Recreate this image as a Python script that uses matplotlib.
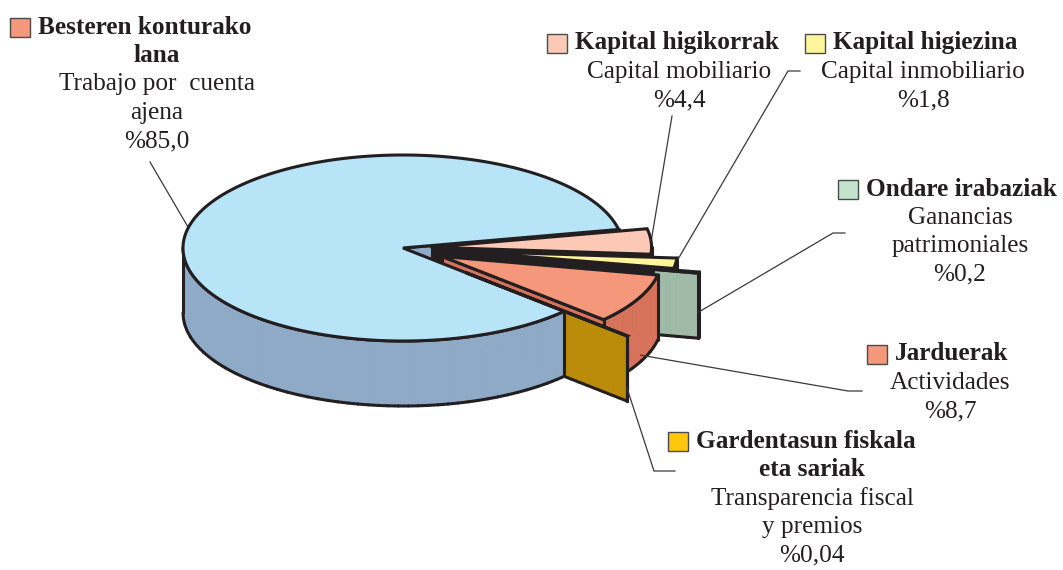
import numpy as np
import matplotlib
matplotlib.use('Agg')
import matplotlib.pyplot as plt
from matplotlib.patches import Polygon, Rectangle

# data
names_eu = ['Besteren konturako\nlana', 'Kapital higikorrak', 'Kapital higiezina',
            'Ondare irabaziak', 'Jarduerak', 'Gardentasun fiskala\neta sariak']
names_es = ['Trabajo por  cuenta\najena', 'Capital mobiliario', 'Capital inmobiliario',
            'Ganancias\npatrimoniales', 'Actividades', 'Transparencia fiscal\ny premios']
values = [85.0, 4.4, 1.8, 0.2, 8.7, 0.04]
value_labels = ['%85,0', '%4,4', '%1,8', '%0,2', '%8,7', '%0,04']

# style
ink = '#231f20'
top_colors = ['#b8e4f8', '#fbc9b5', '#fff69b', '#c3e3cf', '#f4977a', '#ffc60b']
side_colors = ['#8eaac7', '#e3a995', '#d9cf6c', '#9fbaa6', '#d6735a', '#bb8c0a']
box_colors = ['#f4977a', '#fbc9b5', '#fff69b', '#c3e3cf', '#f4977a', '#ffc60b']
dark_upto = [0, 1, 1, 0.8, 0, 0]   # inner part of the cut faces drawn dark
explode = [0.0, 0.13, 0.25, 0.37, 0.2, 0.39]
order = [1, 2, 3, 4, 5, 0]      # clockwise from start angle
start_angle = 11.5
lw = 2.2

cx, cy, a, b, h = 403, 248, 220, 93, 65


def proj(x, y, z):
    return cx + a * x, cy - b * y + h * z


fig = plt.figure(figsize=(10.63, 5.70), dpi=100)
ax = fig.add_axes([0, 0, 1, 1])
ax.set_xlim(0, 1063)
ax.set_ylim(570, 0)
ax.axis('off')

# slice angles
tot = sum(values)
lo_hi = {}
cur = start_angle
for i in order:
    span = values[i] / tot * 360
    lo_hi[i] = (cur - span, cur)
    cur -= span

offsets = {}
for i in range(len(values)):
    lo, hi = lo_hi[i]
    mid = np.radians((lo + hi) / 2)
    offsets[i] = (explode[i] * np.cos(mid), explode[i] * np.sin(mid))


def wall_steps(s, e):
    # split an angle range into pieces about 10 px wide on screen
    th = [s]
    while th[-1] < e:
        step = np.degrees(10.0 / (a * abs(np.sin(np.radians(th[-1]))) + 1e-9))
        th.append(min(e, th[-1] + min(step, 15.0)))
    return th


groups = []   # each: (list of (key, polygon, colour, lines), neighbour span)
for i in range(len(values)):
    lo, hi = lo_hi[i]
    ox, oy = offsets[i]
    # outer wall, front half only
    for k in range(-2, 3):
        s, e = max(lo, -180 + 360 * k), min(hi, 360 * k)
        if e <= s:
            continue
        th = wall_steps(s, e)
        n = len(th) - 1
        segs = []
        for j in range(n):
            t = np.radians(np.linspace(th[j], th[j + 1], 5))
            xs, ys = ox + np.cos(t), oy + np.sin(t)
            top = np.array([proj(x, y, 0) for x, y in zip(xs, ys)])
            bot = np.array([proj(x, y, 1) for x, y in zip(xs, ys)])
            lines = [top, bot]
            if j == 0:
                lines.append(np.array([top[0], bot[0]]))
            if j == n - 1:
                lines.append(np.array([top[-1], bot[-1]]))
            segs.append((oy + np.mean(np.sin(t)), np.vstack([top, bot[::-1]]),
                         side_colors[i], lines))
        groups.append((segs, 2))
    # radial faces
    for ang, vis in ((lo, np.cos(np.radians(lo)) > 0), (hi, np.cos(np.radians(hi)) < 0)):
        if not vis:
            continue
        t = np.radians(ang)
        rs = np.linspace(0, 1, 21)
        segs = []
        for j in range(20):
            r0, r1 = rs[j], rs[j + 1]
            p = [(ox + r * np.cos(t), oy + r * np.sin(t)) for r in (r0, r1)]
            t0, t1 = proj(*p[0], 0), proj(*p[1], 0)
            b0, b1 = proj(*p[0], 1), proj(*p[1], 1)
            lines = [np.array([t0, t1]), np.array([b0, b1])]
            if j == 0:
                lines.append(np.array([t0, b0]))
            if j == 19:
                lines.append(np.array([t1, b1]))
            col = ink if r1 <= dark_upto[i] + 1e-9 else side_colors[i]
            segs.append((oy + np.sin(t) * (r0 + r1) / 2, np.array([t0, t1, b1, b0]),
                         col, lines))
        groups.append((segs, 0))

# painter's order: fills by depth, outlines right after their neighbours' fills
items = []
for segs, nb in groups:
    keys = [sg[0] for sg in segs]
    for j, (key, poly, col, lines) in enumerate(segs):
        items.append((key, 0, poly, col))
        lkey = min(keys[max(0, j - nb):j + nb + 1]) - 1e-6
        for ln in lines:
            items.append((lkey, 1, ln, ink))

items.sort(key=lambda it: -it[0])
z = 1.0
for key, kind, pts, col in items:
    if kind == 0:
        ax.add_patch(Polygon(pts, closed=True, facecolor=col, edgecolor=col, lw=0.6, zorder=z))
    else:
        ax.plot(pts[:, 0], pts[:, 1], color=col, lw=lw, solid_capstyle='round', zorder=z)
    z += 0.001

# top faces
for i in sorted(range(len(values)), key=lambda i: -offsets[i][1]):
    lo, hi = lo_hi[i]
    ox, oy = offsets[i]
    t = np.radians(np.linspace(lo, hi, max(3, int(hi - lo) + 2)))
    pts = [proj(ox, oy, 0)] + [proj(ox + np.cos(tt), oy + np.sin(tt), 0) for tt in t]
    ax.add_patch(Polygon(pts, closed=True, facecolor=top_colors[i], edgecolor=ink,
                         lw=lw, joinstyle='miter', zorder=10))

# labels
font = 'Liberation Serif'
fs = 18.2
lsp = 28.6
label_pos = [  # square x, first line y, centre of the other lines
    (10, 27, 157), (547, 43, 679), (805, 43, 923),
    (838, 189, 960), (867, 354, 950), (668, 441, 812)]
for i, (sx, y0, xc) in enumerate(label_pos):
    ax.add_patch(Rectangle((sx, y0 - 9.5), 20, 19, facecolor=box_colors[i],
                           edgecolor='#4a4a4a', lw=1.0, zorder=20))
    eu = names_eu[i].split('\n')
    ax.text(sx + 28, y0, eu[0], ha='left', va='center', fontsize=fs, family=font,
            weight='bold', color=ink, zorder=20)
    rest = [(s, 'bold') for s in eu[1:]] + [(s, 'normal') for s in names_es[i].split('\n')]
    rest.append((value_labels[i], 'normal'))
    for k, (s, w) in enumerate(rest):
        ax.text(xc, y0 + (k + 1) * lsp, s, ha='center', va='center', fontsize=fs,
                family=font, weight=w, color=ink, zorder=20)

# leader lines: label side points, then point on slice (fraction of angle, r, depth)
leader_start = [[(150, 162)], [(672, 116)], [(800, 71), (788, 71)],
                [(845, 233), (833, 233)], [(862, 391), (848, 391)], [(675, 471), (654, 471)]]
leader_end = [(0.51, 1, 0), (0.5, 1, 0), (0.5, 1, 0), (0.0, 1, 0.6), (0.55, 1, 0.9), (0.0, 1, 0.8)]
for i in range(len(values)):
    lo, hi = lo_hi[i]
    f, r, dz = leader_end[i]
    t = np.radians(lo + f * (hi - lo))
    ox, oy = offsets[i]
    end = proj(ox + r * np.cos(t), oy + r * np.sin(t), dz)
    pts = np.array(leader_start[i] + [end])
    ax.plot(pts[:, 0], pts[:, 1], color='#3a3a3a', lw=0.9, zorder=9)

fig.savefig('out.png', dpi=100, facecolor='white')
